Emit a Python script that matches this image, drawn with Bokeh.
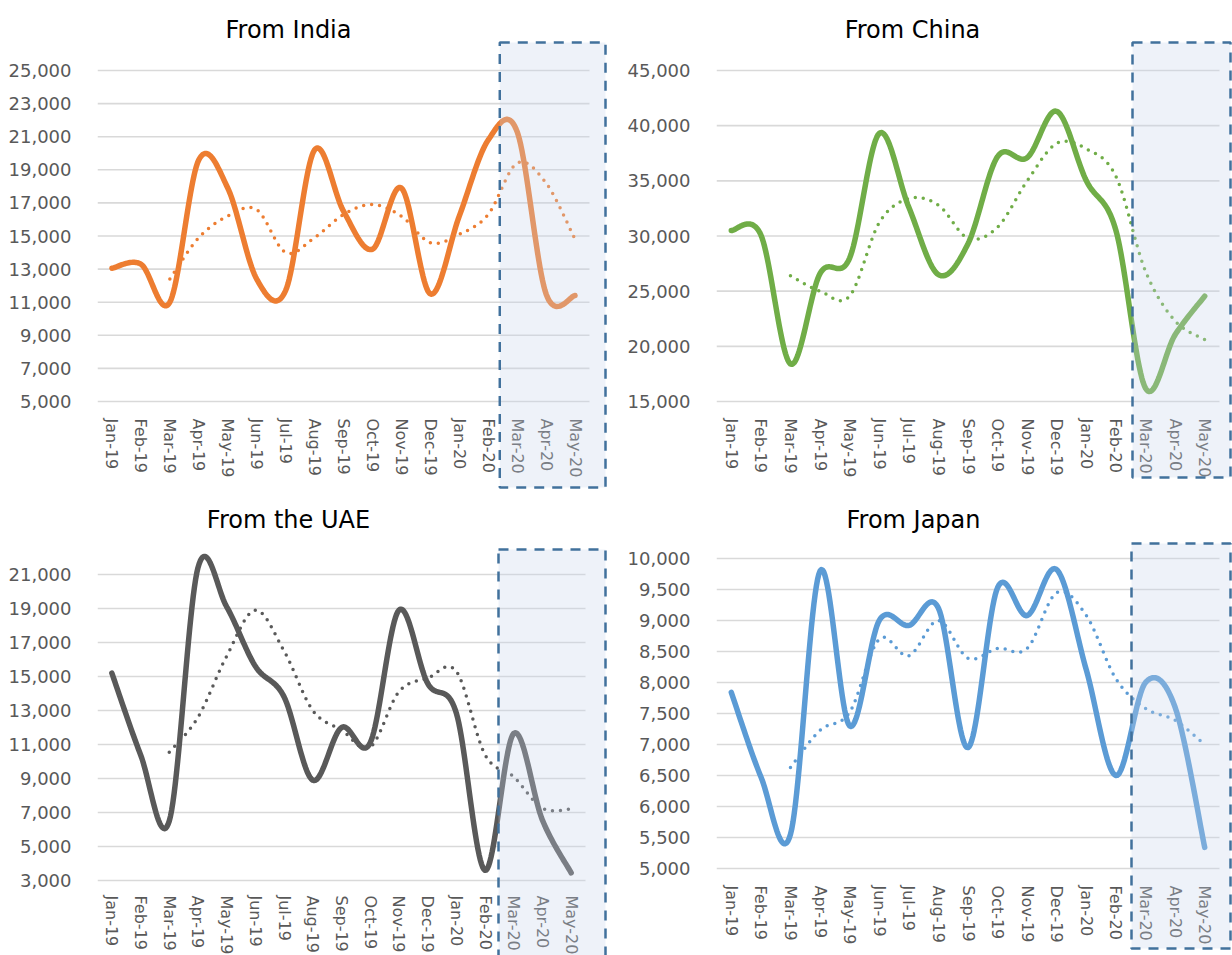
import numpy as np
from bokeh.plotting import figure
from bokeh.layouts import row, column
from bokeh.models import Range1d, FixedTicker, NumeralTickFormatter, BoxAnnotation, Label
from bokeh.embed import file_html
from bokeh.resources import INLINE

months = ["Jan-19", "Feb-19", "Mar-19", "Apr-19", "May-19", "Jun-19", "Jul-19", "Aug-19",
          "Sep-19", "Oct-19", "Nov-19", "Dec-19", "Jan-20", "Feb-20", "Mar-20", "Apr-20", "May-20"]

india = [13050, 13300, 11000, 19600, 17900, 12400, 11700, 20200, 16500, 14200, 17900, 11500,
         16200, 20800, 21300, 11500, 11400]
india_ma = [12400, 14900, 16200, 16600, 14000, 14900, 16300, 16900, 16200, 14600, 15100, 16300,
            19400, 18200, 14800]

china = [30500, 30100, 18400, 26600, 28000, 39300, 32600, 26500, 29300, 37200, 37100, 41300,
         35000, 30500, 16200, 21050, 24550]
china_ma = [26400, 25000, 24550, 31200, 33400, 32800, 29800, 30800, 35000, 38400, 37900, 35400,
            26800, 22300, 20600]

uae = [15200, 10400, 6500, 21400, 19100, 15600, 13800, 8900, 12000, 11100, 18900, 14600,
       12850, 3600, 11650, 6550, 3450]
uae_ma = [10550, 12600, 16200, 18900, 16500, 13000, 11850, 10850, 14100, 14900, 15300, 10400,
          9100, 7250, 7200]

japan = [7840, 6480, 5550, 9800, 7300, 9000, 8920, 9200, 6950, 9530, 9080, 9820,
         8200, 6500, 8000, 7600, 5340]
japan_ma = [6630, 7230, 7520, 8700, 8430, 9000, 8390, 8550, 8550, 9450, 9080, 8060,
            7580, 7390, 7000]

highlight_from = "Mar-20"
FONT = "DejaVu Sans"


def smooth(xs, ys, n=24):
    """Excel-like smoothed line (Catmull-Rom Bezier) through the given points."""
    x = np.asarray(xs, float)
    y = np.asarray(ys, float)
    px = np.concatenate([[x[0]], x, [x[-1]]])
    py = np.concatenate([[y[0]], y, [y[-1]]])
    t = np.linspace(0, 1, n + 1)[1:]
    ox, oy = [x[0]], [y[0]]
    for i in range(len(x) - 1):
        p0x, p0y = px[i + 1], py[i + 1]
        p3x, p3y = px[i + 2], py[i + 2]
        c1x = p0x + (px[i + 2] - px[i]) / 6.0
        c1y = p0y + (py[i + 2] - py[i]) / 6.0
        c2x = p3x - (px[i + 3] - px[i + 1]) / 6.0
        c2y = p3y - (py[i + 3] - py[i + 1]) / 6.0
        a = (1 - t) ** 3
        b = 3 * (1 - t) ** 2 * t
        c = 3 * (1 - t) * t ** 2
        d = t ** 3
        ox.extend(a * p0x + b * c1x + c * c2x + d * p3x)
        oy.extend(a * p0y + b * c1y + c * c2y + d * p3y)
    return ox, oy


def panel(title, series, ma, color, lo, hi, step, geo):
    # geo: page-pixel layout of this panel
    fx, fy, fw, fh = geo["fig"]
    cx0, cx1 = geo["cats"]          # pixel x of category band start / end
    py_lo, py_hi = geo["ylohi"]     # pixel y of lo / hi gridlines
    fl, fr, ft, fb = geo["frame"]   # frame edges in page pixels
    n = len(months)

    def xd(px):
        return -0.5 + (px - cx0) / (cx1 - cx0) * n

    def yd(py):
        return lo + (py_lo - py) / (py_lo - py_hi) * (hi - lo)

    p = figure(width=fw, height=fh, output_backend="svg", toolbar_location=None,
               min_border_left=fl - fx, min_border_right=fx + fw - fr,
               min_border_top=ft - fy, min_border_bottom=fy + fh - fb,
               x_range=Range1d(xd(fl), xd(fr)), y_range=Range1d(yd(fb), yd(ft)))
    p.outline_line_color = None
    p.background_fill_color = "white"
    p.border_fill_color = "white"

    p.xaxis.ticker = FixedTicker(ticks=list(range(n)))
    p.xaxis.major_label_overrides = {i: m for i, m in enumerate(months)}
    p.xaxis.major_label_orientation = "vertical"
    p.xaxis.major_label_standoff = geo["xstand"]
    p.xaxis.major_label_text_font_size = "16px"
    p.xaxis.fixed_location = lo
    yticks = list(range(lo, hi + 1, step))
    p.yaxis.ticker = FixedTicker(ticks=yticks)
    p.yaxis.formatter = NumeralTickFormatter(format="0,0")
    p.yaxis.major_label_standoff = 20
    p.yaxis.major_label_text_font_size = "18px"
    for ax in (p.xaxis, p.yaxis):
        ax.axis_line_color = None
        ax.major_tick_line_color = None
        ax.minor_tick_line_color = None
        ax.major_label_text_color = "#595959"
        ax.major_label_text_font = FONT
    p.xgrid.visible = False
    p.ygrid.visible = False

    # horizontal gridlines over the category band only
    p.segment(x0=[-0.5] * len(yticks), x1=[n - 0.5] * len(yticks), y0=yticks, y1=yticks,
              line_color="#D9D9D9", line_width=1.6)

    xs = list(range(n))
    sx, sy = smooth(xs, series)
    p.line(sx, sy, line_color=color, line_width=5.5, line_cap="round", line_join="round")
    mx, my = smooth(xs[n - len(ma):], ma)
    p.line(mx, my, line_color=color, line_width=3.5, line_dash="0 8", line_cap="round")

    bl, br, bt, bb = geo["box"]
    box = BoxAnnotation(left=max(xd(bl), months.index(highlight_from) - 0.6), right=xd(br),
                        top=yd(bt), bottom=yd(bb),
                        fill_color="#C6D4EB", fill_alpha=0.3,
                        line_color="#41719C", line_alpha=1.0, line_width=2.5,
                        line_dash="10 8", level="overlay")
    p.add_layout(box)

    tx, ty = geo["title"]
    p.add_layout(Label(x=xd(tx), y=yd(ty), text=title, text_align="center",
                       text_baseline="alphabetic", text_font=FONT, text_font_size="24px",
                       text_color="#000000"))
    return p


geo_india = dict(fig=(0, 0, 616, 490), cats=(97, 589), ylohi=(401, 70),
                 frame=(97, 607, 0, 489), box=(499, 605, 42, 487), title=(288, 29), xstand=11)
geo_china = dict(fig=(616, 0, 616, 490), cats=(716, 1219), ylohi=(401, 70),
                 frame=(716, 1232, 0, 489), box=(1132, 1230, 42, 477), title=(912, 29), xstand=11)
geo_uae = dict(fig=(0, 490, 616, 465), cats=(97, 585), ylohi=(880, 574),
               frame=(97, 607, 490, 955), box=(498, 605, 549, 962), title=(288, 519), xstand=9)
geo_japan = dict(fig=(616, 490, 616, 465), cats=(716, 1219), ylohi=(868, 558),
                 frame=(716, 1232, 490, 955), box=(1131, 1230, 543, 948), title=(913, 519), xstand=11)

p1 = panel("From India", india, india_ma, "#ED7D31", 5000, 25000, 2000, geo_india)
p2 = panel("From China", china, china_ma, "#70AD47", 15000, 45000, 5000, geo_china)
p3 = panel("From the UAE", uae, uae_ma, "#595959", 3000, 21000, 2000, geo_uae)
p4 = panel("From Japan", japan, japan_ma, "#5B9BD5", 5000, 10000, 500, geo_japan)

layout = column(row(p1, p2), row(p3, p4))
open("out.html", "w").write(file_html(layout, INLINE))
